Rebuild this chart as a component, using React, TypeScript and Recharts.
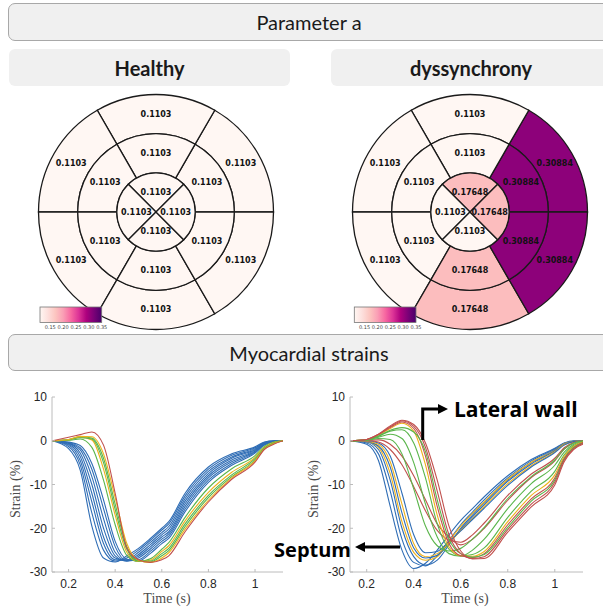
import { PieChart, Pie, Cell, LineChart, Line, XAxis, YAxis } from 'recharts';

// AHA bullseye, outer and mid rings listed counter-clockwise from 3 o'clock (0-60°, 60-120°, ...)
const healthyOuter = [0.1103, 0.1103, 0.1103, 0.1103, 0.1103, 0.1103];
const healthyMid = [0.1103, 0.1103, 0.1103, 0.1103, 0.1103, 0.1103];
const healthyApex = [0.1103, 0.1103, 0.1103, 0.1103]; // top, left, bottom, right
const dysOuter = [0.30884, 0.1103, 0.1103, 0.1103, 0.17648, 0.30884];
const dysMid = [0.30884, 0.1103, 0.1103, 0.1103, 0.17648, 0.30884];
const dysApex = [0.17648, 0.1103, 0.1103, 0.17648];

const cbarTicks = [0.15, 0.2, 0.25, 0.3, 0.35];
const CMIN = 0.1103;
const CMAX = 0.35;
const RDPU = ['#fff7f3', '#fde0dd', '#fcc5c0', '#fa9fb5', '#f768a1', '#dd3497', '#ae017e', '#7a0177', '#49006a'];

// strain curves (%), healthy
const healthyTime = [0.13, 0.2, 0.25, 0.3, 0.35, 0.4, 0.45, 0.5, 0.55, 0.6, 0.63, 0.7, 0.8, 0.9, 1.0, 1.04, 1.08, 1.12];
const healthyStrains = [
  [0, -1.8, -6.7, -19.5, -26.8, -27.7, -26.3, -24.6, -22.4, -20, -18.5, -12, -6, -3, -1.4, -0.3, 0, 0],
  [0, -1.3, -5.5, -16.5, -25, -27.5, -26.8, -25, -22.8, -20.4, -19, -12.6, -6.5, -3.3, -1.6, -0.4, 0, 0],
  [0, -1, -4.5, -14, -23.5, -27.2, -27.2, -25.5, -23.3, -21, -19.6, -13.2, -7, -3.7, -1.8, -0.5, -0.1, 0],
  [0, -0.8, -3.6, -12, -22, -26.8, -27.4, -26, -23.8, -21.5, -20.2, -13.8, -7.5, -4, -2, -0.6, -0.1, 0],
  [0, -0.6, -2.8, -10, -20, -26.3, -27.5, -26.4, -24.3, -22, -20.8, -14.4, -8, -4.4, -2.2, -0.7, -0.1, 0],
  [0, -0.5, -2.1, -8.2, -17.8, -25.5, -27.5, -26.8, -24.8, -22.5, -21.3, -15, -8.5, -4.8, -2.4, -0.8, -0.1, 0],
  [0, -0.4, -1.6, -6.5, -15.5, -24.2, -27.4, -27.2, -25.3, -23, -21.8, -15.6, -9, -5.2, -2.6, -0.9, -0.2, 0],
  [0, -0.3, -1.1, -5.2, -13.5, -23, -27.1, -27.5, -25.8, -23.5, -22.3, -16.2, -9.5, -5.6, -2.8, -1, -0.2, 0],
  [0, 0.1, 0.4, -1.5, -9, -19.2, -26.2, -27.6, -27, -24.8, -23.3, -17.5, -10.8, -6.4, -3.4, -1.3, -0.3, 0],
  [0, 0.2, 0.8, 0.2, -6.5, -17, -25.5, -27.6, -27.3, -25.3, -24, -18.3, -11.8, -7.2, -3.8, -1.5, -0.4, 0],
  [0, 0.2, 0.7, 0.4, -5, -15.7, -24.8, -27.5, -27.5, -25.8, -24.6, -19, -12.5, -7.8, -4.1, -1.7, -0.5, 0],
  [0, 0.3, 0.9, 0.6, -4, -14.5, -24.2, -27.4, -27.7, -26.3, -25.1, -19.6, -13, -8.2, -4.4, -1.8, -0.6, 0],
  [0, 0.3, 1.0, 0.9, -3, -13, -23.5, -27.3, -27.8, -26.8, -25.6, -20.2, -13.6, -8.5, -4.6, -1.9, -0.7, 0],
  [0, 0.8, 1.4, 2.0, -1, -12, -24.5, -27.2, -27.8, -27.2, -26.3, -20.8, -14, -8.8, -4.9, -2, -0.8, 0],
];
const healthyColors = ['b', 'b', 'b', 'b', 'b', 'b', 'b', 'b', 'g', 'y', 'g', 'g', 'y', 'r'];

// strain curves (%), dyssynchrony
const dysTime = [0.13, 0.2, 0.25, 0.3, 0.35, 0.4, 0.45, 0.5, 0.55, 0.6, 0.65, 0.7, 0.8, 0.9, 1.0, 1.04, 1.08, 1.12];
const dysStrains = [
  [0, -0.8, -4.5, -15, -25, -29.2, -28, -25, -21.5, -18.2, -15.5, -12.8, -8, -4.3, -1.7, -0.5, 0, 0],
  [0, -0.5, -3, -11.5, -22.5, -27.8, -28.6, -26.3, -22.8, -19.2, -16.3, -13.5, -8.5, -4.6, -1.9, -0.6, -0.1, 0],
  [0, -0.3, -2, -9, -20, -26.5, -28.4, -27.3, -23.8, -20, -17, -14.2, -9, -5, -2.1, -0.7, -0.1, 0],
  [0, -0.2, -1.5, -7.5, -18.5, -25.5, -27.3, -26.5, -23, -19.5, -16.6, -14, -8.8, -4.9, -2.2, -0.7, -0.1, 0],
  [0, -0.2, -1.2, -6, -16.5, -24.5, -26.8, -26.2, -23.5, -20.3, -17.4, -14.6, -9.3, -5.3, -2.3, -0.8, -0.1, 0],
  [0, -0.1, -0.8, -4.8, -14.5, -23.5, -26.5, -25.8, -23.4, -20.5, -17.8, -15, -9.8, -5.7, -2.5, -0.9, -0.2, 0],
  [0, 0, -0.5, -3.5, -12, -21.5, -25.6, -25.3, -23, -20.6, -18, -15.4, -10.2, -6, -2.7, -1, -0.2, 0],
  [0, 0, -0.3, -2, -5.5, -10.5, -16, -20.5, -22.7, -23.2, -21.5, -18.8, -12.5, -7.6, -4, -1.6, -0.4, 0],
  [0, 0.1, 0.2, -0.8, -3.5, -8, -13.5, -19, -22, -23.8, -22.5, -20, -13.6, -8.4, -4.6, -1.9, -0.5, 0],
  [0, 0.1, 0.5, 0.3, -3, -11, -19.5, -24, -25.2, -24.6, -22.5, -19.8, -13.2, -8.2, -4.4, -1.9, -0.5, 0],
  [0, 0.2, 0.8, 1.5, 0.5, -5, -14.5, -22, -25.8, -26.4, -25, -22.5, -15.5, -9.8, -5.6, -2.6, -0.8, -0.1],
  [0, 0.2, 1, 2.2, 2.5, -0.5, -8.5, -19, -24.8, -26.3, -26, -24.5, -17.5, -11.5, -7, -3.2, -1.1, -0.2],
  [0, 0.3, 1.3, 2.8, 4.0, 2.2, -5.5, -17, -24.3, -26.3, -26.4, -25.3, -18.5, -12.5, -7.8, -3.6, -1.3, -0.3],
  [0, 0.3, 1.4, 3, 4.3, 2.8, -3.5, -15, -23.5, -26.3, -26.7, -25.8, -19.2, -13.3, -8.5, -4, -1.5, -0.4],
  [0, 0.2, 1.1, 2.4, 3, 2, -2.5, -13.5, -22.5, -25.8, -26.6, -26, -19.8, -13.8, -9, -4.2, -1.6, -0.5],
  [0, 0.3, 1.5, 3.2, 4.5, 3.3, -1.5, -11.5, -21.5, -25.8, -26.9, -26.5, -20.3, -14.5, -9.5, -4.4, -1.8, -0.6],
  [0, 0.3, 1.5, 3.4, 4.7, 3.7, -0.5, -9, -19.5, -25.2, -27, -26.9, -20.9, -15.1, -10.1, -4.8, -2, -0.8],
];
const dysColors = ['b', 'b', 'b', 'y', 'b', 'y', 'b', 'r', 'r', 'g', 'g', 'g', 'y', 'r', 'g', 'r', 'r'];

const timeTicks = [0.2, 0.4, 0.6, 0.8, 1];
const strainTicks = [-30, -20, -10, 0, 10];

const LINE_COLORS: Record<string, string> = { b: '#2f6db5', y: '#efb11a', g: '#5ab54b', r: '#c0504d' };
const RADIAN = Math.PI / 180;

function hexToRgb(h: string) {
  const n = parseInt(h.slice(1), 16);
  return [(n >> 16) & 255, (n >> 8) & 255, n & 255];
}

function rdpu(v: number) {
  const t = Math.min(1, Math.max(0, (v - CMIN) / (CMAX - CMIN))) * (RDPU.length - 1);
  const i = Math.min(RDPU.length - 2, Math.floor(t));
  const f = t - i;
  const a = hexToRgb(RDPU[i]);
  const b = hexToRgb(RDPU[i + 1]);
  const c = a.map((x, k) => Math.round(x + (b[k] - x) * f));
  return `rgb(${c[0]},${c[1]},${c[2]})`;
}

function segLabel(props: any) {
  const { cx, cy, midAngle, innerRadius, outerRadius } = props;
  const v = props.payload?.val ?? props.val;
  const r = (innerRadius + outerRadius) / 2;
  const x = cx + r * Math.cos(-midAngle * RADIAN);
  const y = cy + r * Math.sin(-midAngle * RADIAN);
  return (
    <text x={x} y={y} textAnchor="middle" dominantBaseline="central" fontSize={8} fontWeight="bold"
      fontFamily="DejaVu Sans, sans-serif" fill="#111">
      {String(v)}
    </text>
  );
}

function Bullseye({ outer, mid, apex }: { outer: number[]; mid: number[]; apex: number[] }) {
  const ring = (vals: number[]) => vals.map((v) => ({ size: 1, val: v }));
  const cells = (vals: number[]) =>
    vals.map((v, i) => <Cell key={i} fill={rdpu(v)} stroke="#1a1a1a" strokeWidth={1.3} />);
  return (
    <PieChart width={240} height={240} margin={{ top: 0, right: 0, bottom: 0, left: 0 }}>
      <Pie data={ring(outer)} dataKey="size" cx={120} cy={120} innerRadius={78.3} outerRadius={117.5}
        startAngle={0} endAngle={360} label={segLabel} labelLine={false} isAnimationActive={false}>
        {cells(outer)}
      </Pie>
      <Pie data={ring(mid)} dataKey="size" cx={120} cy={120} innerRadius={39.2} outerRadius={78.3}
        startAngle={0} endAngle={360} label={segLabel} labelLine={false} isAnimationActive={false}>
        {cells(mid)}
      </Pie>
      <Pie data={ring(apex)} dataKey="size" cx={120} cy={120} innerRadius={0} outerRadius={39.2}
        startAngle={45} endAngle={405} label={segLabel} labelLine={false} isAnimationActive={false}>
        {cells(apex)}
      </Pie>
    </PieChart>
  );
}

function Colorbar({ x, y, id }: { x: number; y: number; id: string }) {
  const w = 61.7;
  const h = 15.5;
  return (
    <g>
      <defs>
        <linearGradient id={id} x1="0" y1="0" x2="1" y2="0">
          {RDPU.map((c, i) => (
            <stop key={i} offset={i / (RDPU.length - 1)} stopColor={c} />
          ))}
        </linearGradient>
      </defs>
      <rect x={x} y={y} width={w} height={h} fill={`url(#${id})`} stroke="#777" strokeWidth={0.8} />
      {cbarTicks.map((t) => (
        <text key={t} x={x + ((t - CMIN) / (CMAX - CMIN)) * w} y={y + h + 6} textAnchor="middle"
          fontSize={5} fontFamily="DejaVu Sans, sans-serif" fill="#444">
          {t.toFixed(2)}
        </text>
      ))}
    </g>
  );
}

function StrainChart({ times, curves, colors, width, ml, mr }: any) {
  const rows = times.map((t: number, i: number) => {
    const r: any = { t };
    curves.forEach((c: number[], j: number) => (r['s' + j] = c[i]));
    return r;
  });
  const tickStyle = { fill: '#262626', fontSize: 12, fontFamily: 'Liberation Sans, Arial, sans-serif' };
  return (
    <LineChart width={width} height={234} data={rows} margin={{ top: 17, right: mr, bottom: 12, left: ml }}>
      <XAxis dataKey="t" type="number" domain={[0.129, 1.12]} ticks={timeTicks} allowDataOverflow
        height={30} tickSize={-3} tickMargin={10} axisLine={{ stroke: '#bcbcbc' }}
        tickLine={{ stroke: '#bcbcbc' }} tick={tickStyle} tickFormatter={(v: number) => String(v)} />
      <YAxis type="number" domain={[-30, 10]} ticks={strainTicks} allowDataOverflow width={40}
        tickSize={-3} tickMargin={8} axisLine={{ stroke: '#bcbcbc' }} tickLine={{ stroke: '#bcbcbc' }}
        tick={tickStyle} />
      {curves.map((_: number[], j: number) => (
        <Line key={j} dataKey={'s' + j} type="monotone" stroke={LINE_COLORS[colors[j]]} strokeWidth={1.1}
          dot={false} isAnimationActive={false} />
      ))}
    </LineChart>
  );
}

const boxBase: any = {
  position: 'absolute',
  background: '#f0f0f0',
  display: 'flex',
  alignItems: 'center',
  justifyContent: 'center',
  fontFamily: 'Lato, "Noto Sans", sans-serif',
  color: '#1a1a1a',
  boxSizing: 'border-box',
};

export default function App() {
  return (
    <div style={{ position: 'fixed', left: 0, top: 0, width: 603, height: 614, background: '#fff', overflow: 'hidden' }}>
      <div style={{ ...boxBase, left: 8, top: 3, width: 602, height: 38, border: '1px solid #a8a8a8', borderRadius: 7, fontSize: 20 }}>
        Parameter a
      </div>
      <div style={{ ...boxBase, left: 9, top: 49, width: 281, height: 37, borderRadius: 6, fontSize: 20, fontWeight: 700 }}>
        Healthy
      </div>
      <div style={{ ...boxBase, left: 331, top: 49, width: 280, height: 37, borderRadius: 6, fontSize: 20, fontWeight: 700 }}>
        dyssynchrony
      </div>
      <div style={{ position: 'absolute', left: 36, top: 92 }}>
        <Bullseye outer={healthyOuter} mid={healthyMid} apex={healthyApex} />
      </div>
      <div style={{ position: 'absolute', left: 350, top: 92 }}>
        <Bullseye outer={dysOuter} mid={dysMid} apex={dysApex} />
      </div>
      <div style={{ ...boxBase, left: 8, top: 334, width: 602, height: 37, border: '1px solid #a8a8a8', borderRadius: 7, fontSize: 20 }}>
        Myocardial strains
      </div>
      <div style={{ position: 'absolute', left: 0, top: 380 }}>
        <StrainChart times={healthyTime} curves={healthyStrains} colors={healthyColors} width={300} ml={12} mr={17} />
      </div>
      <div style={{ position: 'absolute', left: 300, top: 380 }}>
        <StrainChart times={dysTime} curves={dysStrains} colors={dysColors} width={303} ml={10} mr={20} />
      </div>
      <svg width={603} height={614} style={{ position: 'absolute', left: 0, top: 0, pointerEvents: 'none' }}>
        <Colorbar x={40} y={307} id="cb1" />
        <Colorbar x={354.3} y={307} id="cb2" />
        <g fontFamily="Liberation Serif, serif" fontSize={14} fill="#4d4d4d">
          <text x={15} y={489} textAnchor="middle" dominantBaseline="central" transform="rotate(-90 15 489)">Strain (%)</text>
          <text x={313} y={489} textAnchor="middle" dominantBaseline="central" transform="rotate(-90 313 489)">Strain (%)</text>
          <text x={167} y={598} textAnchor="middle" dominantBaseline="central">Time (s)</text>
          <text x={465} y={598} textAnchor="middle" dominantBaseline="central">Time (s)</text>
        </g>
        <g stroke="#000" strokeWidth={3} fill="none">
          <polyline points="422.7,440 422.7,409 440,409" />
          <line x1={400} y1={547} x2={363} y2={547} />
        </g>
        <polygon points="448,409 438,404 438,414" fill="#000" />
        <polygon points="355,547 365,542 365,552" fill="#000" />
        <g fontFamily="Open Sans, sans-serif" fontWeight={700} fill="#000">
          <text x={454} y={409} fontSize={21} dominantBaseline="central">Lateral wall</text>
          <text x={351} y={549} fontSize={20} textAnchor="end" dominantBaseline="central">Septum</text>
        </g>
      </svg>
    </div>
  );
}
